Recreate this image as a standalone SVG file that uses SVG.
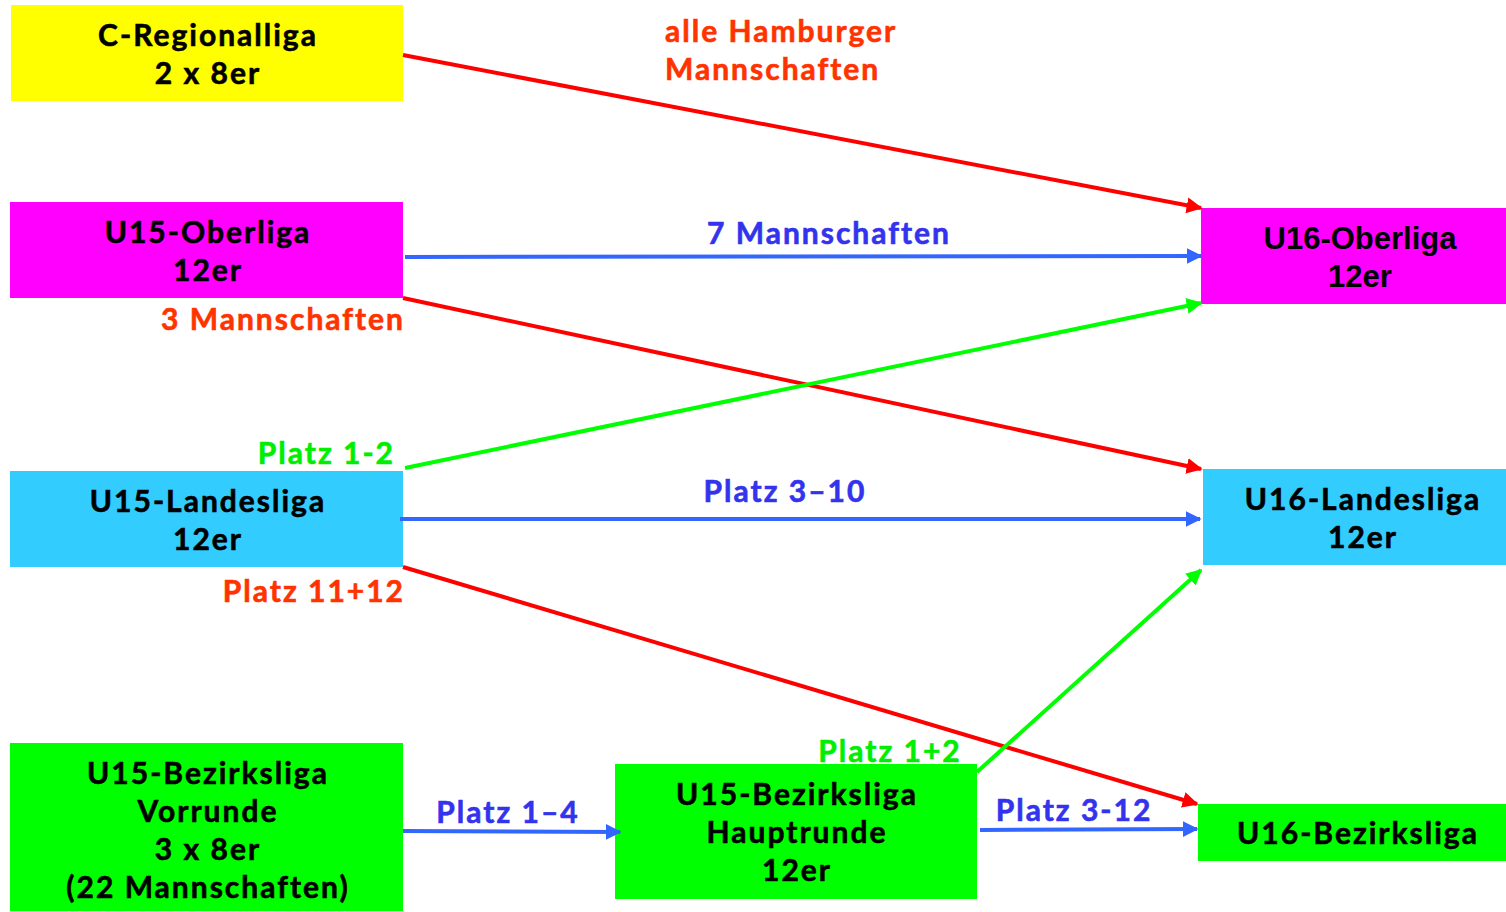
<svg xmlns="http://www.w3.org/2000/svg" width="1506" height="912" viewBox="0 0 1506 912">
<defs>
<marker id="ar" viewBox="0 0 10 10" refX="9" refY="5" markerWidth="4" markerHeight="4" orient="auto" markerUnits="strokeWidth"><path d="M0,0 L10,5 L0,10 z" fill="#ff0000"/></marker>
<marker id="ab" viewBox="0 0 10 10" refX="9" refY="5" markerWidth="4" markerHeight="4" orient="auto" markerUnits="strokeWidth"><path d="M0,0 L10,5 L0,10 z" fill="#3366ff"/></marker>
<marker id="ag" viewBox="0 0 10 10" refX="9" refY="5" markerWidth="4" markerHeight="4" orient="auto" markerUnits="strokeWidth"><path d="M0,0 L10,5 L0,10 z" fill="#00ff00"/></marker>
</defs>
<style>
.t{font-family:Lato,"Open Sans","DejaVu Sans",sans-serif;font-weight:bold;font-size:30px;letter-spacing:2px;text-anchor:middle;fill:#000;stroke:#000;stroke-width:0.6}
.a{font-family:"Liberation Sans",Arial,sans-serif;font-weight:bold;font-size:31px;text-anchor:middle;fill:#000}
.l{font-family:Lato,"Open Sans","DejaVu Sans",sans-serif;font-weight:bold;font-size:30px;letter-spacing:2px;stroke-width:0.6}
.r{fill:#ff3300;stroke:#ff3300}.b{fill:#3333ee;stroke:#3333ee}.g{fill:#00ee00;stroke:#00ee00}
.cr{stroke:#ff0000;stroke-width:4;fill:none;marker-end:url(#ar)}
.cb{stroke:#3366ff;stroke-width:4;fill:none;marker-end:url(#ab)}
.cg{stroke:#00ff00;stroke-width:4;fill:none;marker-end:url(#ag)}
</style>
<rect width="1506" height="912" fill="#fff"/>
<g id="c-regionalliga"><rect x="11" y="5" width="392" height="96" fill="#ffff00"/><text class="t" x="208" y="46">C-Regionalliga</text><text class="t" x="208" y="84">2 x 8er</text></g>
<g id="u15-oberliga"><rect x="10" y="202" width="393" height="96" fill="#ff00ff"/><text class="t" x="208" y="243">U15-Oberliga</text><text class="t" x="208" y="281">12er</text></g>
<g id="u15-landesliga"><rect x="10" y="471" width="393" height="96" fill="#33ccff"/><text class="t" x="208" y="512">U15-Landesliga</text><text class="t" x="208" y="550">12er</text></g>
<g id="u15-bezirksliga-vorrunde"><rect x="10" y="743" width="393" height="168" fill="#00ff00"/><text class="t" x="208" y="784">U15-Bezirksliga</text><text class="t" x="208" y="822">Vorrunde</text><text class="t" x="208" y="860">3 x 8er</text><text class="t" x="208" y="898">(22 Mannschaften)</text></g>
<g id="u15-bezirksliga-hauptrunde"><rect x="615" y="764" width="362" height="135" fill="#00ff00"/><text class="t" x="797" y="805">U15-Bezirksliga</text><text class="t" x="797" y="843">Hauptrunde</text><text class="t" x="797" y="881">12er</text></g>
<g id="u16-oberliga"><rect x="1201" y="208" width="305" height="96" fill="#ff00ff"/><text class="a" x="1360" y="249">U16-Oberliga</text><text class="a" x="1360" y="287">12er</text></g>
<g id="u16-landesliga"><rect x="1203" y="469" width="303" height="96" fill="#33ccff"/><text class="t" x="1363" y="510">U16-Landesliga</text><text class="t" x="1363" y="548">12er</text></g>
<g id="u16-bezirksliga"><rect x="1198" y="804" width="308" height="57" fill="#00ff00"/><text class="t" x="1358" y="844">U16-Bezirksliga</text></g>
<g id="connectors">
<line class="cr" x1="403" y1="55" x2="1201" y2="208"/>
<line class="cb" x1="405" y1="257" x2="1201" y2="256"/>
<line class="cr" x1="403" y1="298" x2="1201" y2="469"/>
<line class="cg" x1="405" y1="468" x2="1201" y2="303"/>
<line class="cb" x1="400" y1="519" x2="1200" y2="519"/>
<line class="cr" x1="403" y1="567" x2="1197" y2="804"/>
<line class="cg" x1="977" y1="772" x2="1201" y2="570"/>
<line class="cb" x1="403" y1="831" x2="620" y2="832"/>
<line class="cb" x1="980" y1="830" x2="1197" y2="829"/>
</g>
<g id="labels">
<text class="l r" x="665" y="42">alle Hamburger</text>
<text class="l r" x="665" y="80">Mannschaften</text>
<text class="l b" x="829" y="244" text-anchor="middle">7 Mannschaften</text>
<text class="l r" x="405" y="330" text-anchor="end">3 Mannschaften</text>
<text class="l g" x="395" y="464" text-anchor="end">Platz 1-2</text>
<text class="l b" x="785" y="502" text-anchor="middle">Platz 3–10</text>
<text class="l r" x="405" y="602" text-anchor="end">Platz 11+12</text>
<text class="l g" x="890" y="762" text-anchor="middle">Platz 1+2</text>
<text class="l b" x="508" y="823" text-anchor="middle">Platz 1–4</text>
<text class="l b" x="1074" y="821" text-anchor="middle">Platz 3-12</text>
</g>
</svg>
